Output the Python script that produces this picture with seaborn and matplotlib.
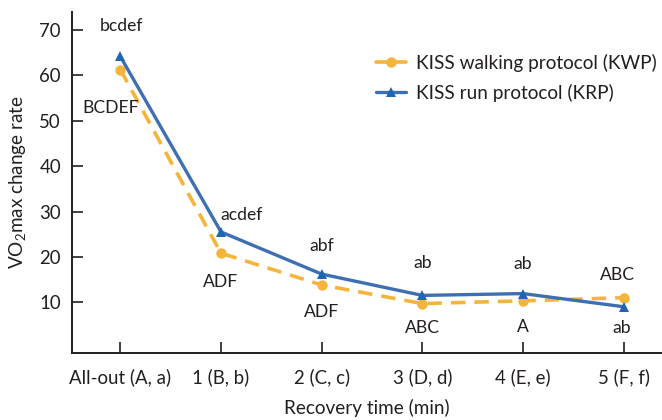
import matplotlib
matplotlib.use("Agg")
import matplotlib.pyplot as plt
import seaborn as sns
import pandas as pd

# recovery time categories
time_labels = ["All-out (A, a)", "1 (B, b)", "2 (C, c)", "3 (D, d)", "4 (E, e)", "5 (F, f)"]

# VO2max change rate
kwp_values = [61.3, 20.8, 13.8, 9.7, 10.3, 11.0]
krp_values = [64.2, 25.5, 16.2, 11.5, 11.9, 9.0]

# significance letters
kwp_letters = ["BCDEF", "ADF", "ADF", "ABC", "A", "ABC"]
krp_letters = ["bcdef", "acdef", "abf", "ab", "ab", "ab"]

# label offsets in pixels (dx, dy)
kwp_offsets = [(-10, -38), (0, -29), (0, -27), (0, -24), (0, -26), (-6, 23)]
krp_offsets = [(1, 30), (21, 17), (0, 28), (0, 32), (0, 30), (-2, -21)]

ORANGE = "#F5B43C"
BLUE = "#3E6FB3"
BLUE_MK = "#1F66B0"
TXT = "#231F20"

sns.set_theme(style="white")
plt.rcParams["font.family"] = ["Lato", "DejaVu Sans"]
plt.rcParams["mathtext.default"] = "regular"

df = pd.DataFrame({
    "x": list(range(len(time_labels))),
    "KWP": kwp_values,
    "KRP": krp_values,
})

fig = plt.figure(figsize=(6.62, 4.2), dpi=100)
ax = fig.add_axes([72 / 662, 1 - 353 / 420, 1 - 72 / 662, (353 - 12) / 420])

sns.lineplot(data=df, x="x", y="KWP", ax=ax, color=ORANGE, linewidth=2.6,
             linestyle=(0, (4, 2.5)), marker="o", markersize=7.5,
             markeredgewidth=0, label="KISS walking protocol (KWP)")
sns.lineplot(data=df, x="x", y="KRP", ax=ax, color=BLUE, linewidth=2.4,
             marker="^", markersize=7.5, markerfacecolor=BLUE_MK,
             markeredgewidth=0, label="KISS run protocol (KRP)")

for i, (v, t) in enumerate(zip(kwp_values, kwp_letters)):
    ax.annotate(t, (i, v), xytext=kwp_offsets[i], textcoords="offset pixels",
                ha="center", va="center", fontsize=12.6, color=TXT)
for i, (v, t) in enumerate(zip(krp_values, krp_letters)):
    ax.annotate(t, (i, v), xytext=krp_offsets[i], textcoords="offset pixels",
                ha="center", va="center", fontsize=12.6, color=TXT)

ax.set_xlim(-0.48, 5.38)
ax.set_ylim(-1.2, 74)
ax.set_xticks(range(len(time_labels)))
ax.set_xticklabels(time_labels)
ax.set_yticks([10, 20, 30, 40, 50, 60, 70])

ax.set_xlabel("Recovery time (min)", fontsize=13.6, color=TXT, labelpad=9)
ax.set_ylabel("VO$_2$max change rate", fontsize=13.6, color=TXT, labelpad=8)

sns.despine(ax=ax)
for s in ["left", "bottom"]:
    ax.spines[s].set_color(TXT)
    ax.spines[s].set_linewidth(1.4)
ax.tick_params(axis="both", direction="in", length=8, width=1.2, color=TXT,
               labelsize=13.4, labelcolor=TXT, pad=8, left=True, bottom=True)
ax.tick_params(axis="x", pad=11)

leg = ax.legend(loc="upper left", bbox_to_anchor=(0.515, 0.878), frameon=False,
                fontsize=13.7, handlelength=1.6, handletextpad=0.5,
                labelspacing=0.62, borderaxespad=0, borderpad=0)
for txt in leg.get_texts():
    txt.set_color(TXT)
for h in leg.legend_handles:
    h.set_linestyle("-")

fig.savefig("out.png", dpi=100)
